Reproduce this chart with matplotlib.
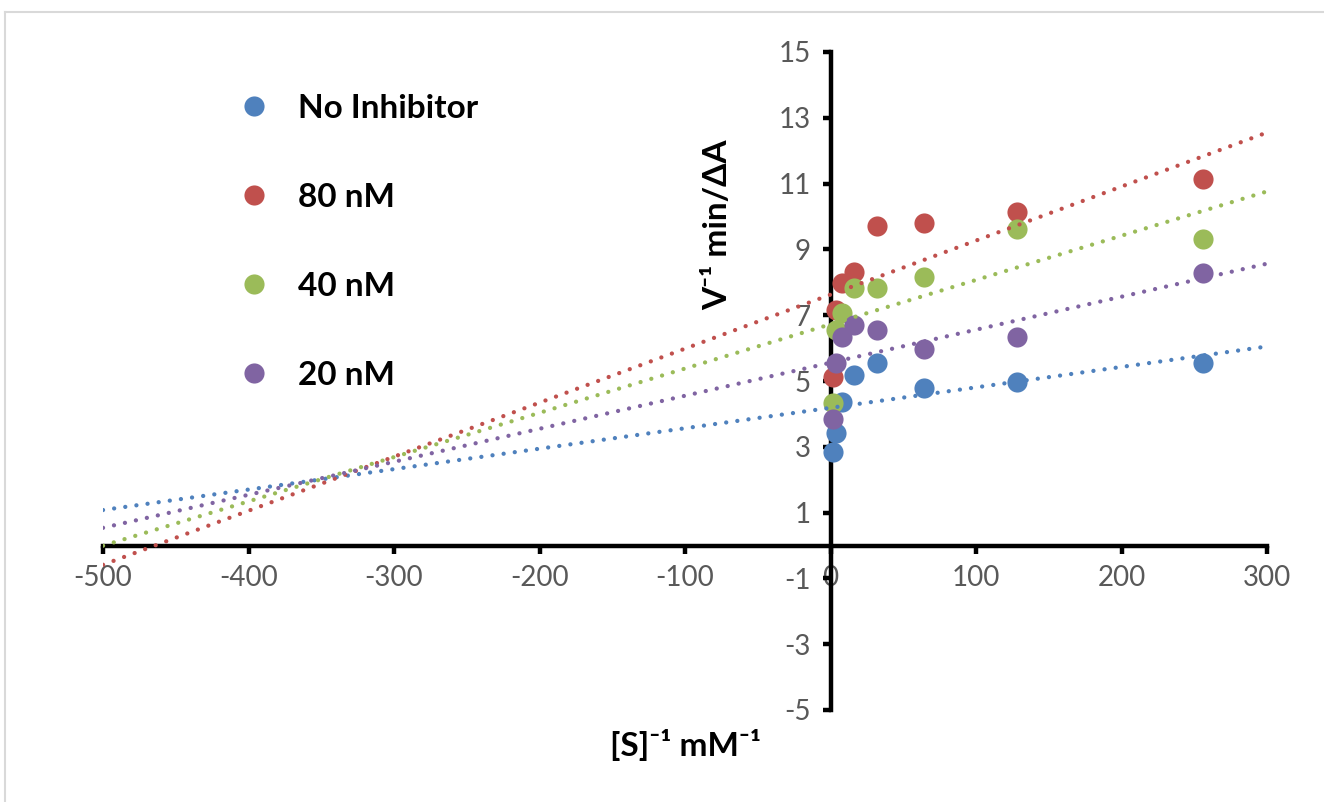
import numpy as np
import matplotlib
matplotlib.use("Agg")
import matplotlib.pyplot as plt
from matplotlib.lines import Line2D

# 1/[S] values (mM^-1)
inv_s = [2, 4, 8, 16, 32, 64, 128, 256]

# 1/V values (min/dA) for each inhibitor level
no_inhibitor = [2.85, 3.41, 4.37, 5.18, 5.54, 4.78, 4.97, 5.55]
nm_80 = [5.13, 7.16, 7.97, 8.32, 9.71, 9.81, 10.14, 11.14]
nm_40 = [4.32, 6.55, 7.06, 7.82, 7.82, 8.15, 9.62, 9.32]
nm_20 = [3.84, 5.54, 6.35, 6.70, 6.55, 5.96, 6.34, 8.28]

labels = ["No Inhibitor", "80 nM", "40 nM", "20 nM"]
colors = ["#4F81BD", "#C0504D", "#9BBB59", "#8064A2"]

trend_range = [-500, 300]
x_ticks = np.arange(-500, 301, 100)
y_ticks = np.arange(-5, 16, 2)

FONT = ["Lato", "DejaVu Sans"]
plt.rcParams["font.family"] = FONT
plt.rcParams["axes.unicode_minus"] = False

fig = plt.figure(figsize=(13.24, 8.02), dpi=100)
ax = fig.add_axes([103 / 1324, 92 / 802, 1164 / 1324, 658 / 802])

series = [no_inhibitor, nm_80, nm_40, nm_20]
x = np.array(inv_s, dtype=float)
handles = []
for y, lab, c in zip(series, labels, colors):
    h, = ax.plot(x, y, "o", ms=14.5, mew=0, color=c, label=lab, zorder=3)
    handles.append(h)

# linear trendlines (Excel style), drawn on top of the markers
xr = np.array(trend_range, dtype=float)
for y, c in zip(series, colors):
    k, b = np.polyfit(x, y, 1)
    ax.plot(xr, k * xr + b, color=c, lw=3.1, linestyle=(0, (0.01, 2.6)),
            dash_capstyle="round", zorder=4)

ax.set_xlim(-500, 300)
ax.set_ylim(-5, 15)
ax.set_xticks(x_ticks)
ax.set_yticks(y_ticks)

for s in ["top", "right"]:
    ax.spines[s].set_visible(False)
ax.spines["left"].set_position(("data", 0))
ax.spines["bottom"].set_position(("data", 0))
for s in ["left", "bottom"]:
    ax.spines[s].set_linewidth(3.2)
    ax.spines[s].set_color("black")
    ax.spines[s].set_zorder(2.5)

ax.tick_params(axis="both", direction="out", length=6, width=3.2,
               color="black", labelsize=20, labelcolor="#595959")
ax.tick_params(axis="y", pad=8)
ax.tick_params(axis="x", pad=8)

# axis titles
fig.text(718 / 1324, 1 - 225 / 802, "V\u207b\u00b9 min/\u0394A", rotation=90,
         ha="center", va="center", fontsize=24, fontweight="bold",
         family=FONT)
fig.text(686 / 1324, 1 - 745 / 802, "[S]\u207b\u00b9 mM\u207b\u00b9",
         ha="center", va="center", fontsize=24, fontweight="bold",
         family=FONT)

leg = ax.legend(handles=handles, loc="upper left",
                bbox_to_anchor=(241 / 1324, 1 - 94 / 802),
                bbox_transform=fig.transFigure, frameon=False,
                borderpad=0, borderaxespad=0, handlelength=0.8,
                handletextpad=0.9, labelspacing=1.8,
                prop={"size": 24, "weight": "bold", "family": FONT})

# light grey chart-area border (top and left edge visible)
fig.add_artist(Line2D([5 / 1324, 1], [1 - 12 / 802, 1 - 12 / 802],
                      transform=fig.transFigure, color="#D9D9D9", lw=1.5))
fig.add_artist(Line2D([5 / 1324, 5 / 1324], [0, 1 - 12 / 802],
                      transform=fig.transFigure, color="#D9D9D9", lw=1.5))

fig.savefig("out.png", dpi=100)
